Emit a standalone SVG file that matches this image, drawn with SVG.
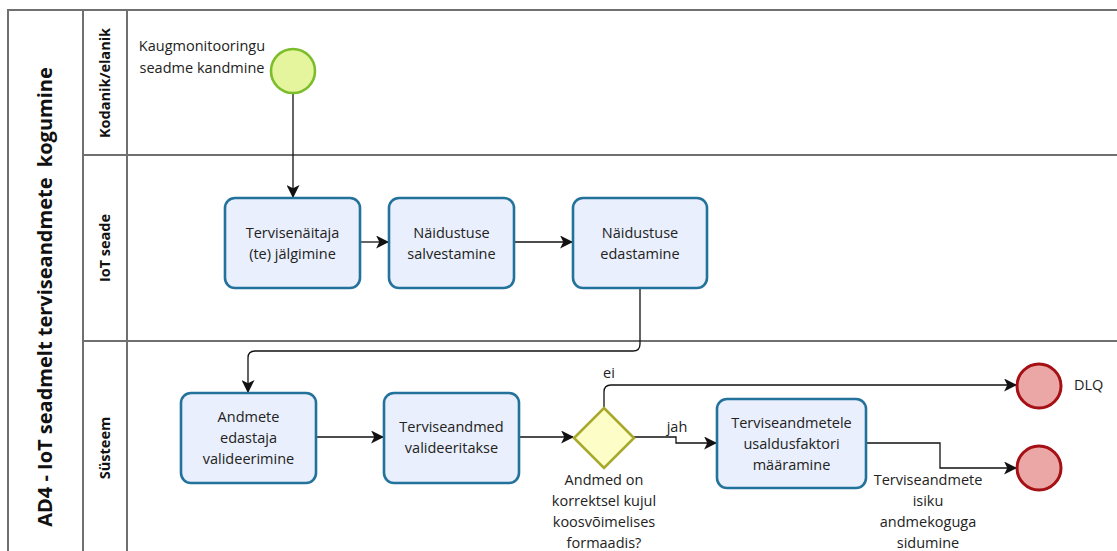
<svg xmlns="http://www.w3.org/2000/svg" width="1117" height="551" viewBox="0 0 1117 551">
  <defs>
    <marker id="arrow" viewBox="0 0 12 12" refX="11" refY="6" markerWidth="13" markerHeight="13" markerUnits="userSpaceOnUse" orient="auto">
      <path d="M0,0 L12,6 L0,12 L3,6 Z" fill="#111"/>
    </marker>
    <style>
      .lane { fill: none; stroke: #707070; stroke-width: 2; }
      .task rect { fill: #e9effc; stroke: #23729c; stroke-width: 2.6; }
      .label { font-family: "Open Sans", "Noto Sans", sans-serif; font-size: 14.5px; fill: #222; text-anchor: middle; }
      .lbl-left { text-anchor: start; }
      .pool-title { font-family: "Open Sans", "Noto Sans", sans-serif; font-size: 20px; font-weight: bold; fill: #111; text-anchor: middle; white-space: pre; }
      .lane-title { font-family: "Open Sans", "Noto Sans", sans-serif; font-size: 14.5px; font-weight: bold; fill: #111; text-anchor: middle; }
      .flow { fill: none; stroke: #111; stroke-width: 1.3; marker-end: url(#arrow); }
      .start circle { fill: #e5f59d; stroke: #7cbd2c; stroke-width: 2.6; }
      .end circle { fill: #eba6a6; stroke: #a51014; stroke-width: 3; }
      .gateway polygon { fill: #fdfdc8; stroke: #a8a82c; stroke-width: 2.6; }
    </style>
  </defs>

  <rect width="1117" height="551" fill="#fff"/>

  <!-- pool and lanes -->
  <g id="pool">
    <path class="lane" d="M1117,10 H8 V551"/>
    <path class="lane" d="M83,10 V551"/>
    <path class="lane" d="M127,10 V551"/>
    <path class="lane" d="M83,155 H1117"/>
    <path class="lane" d="M83,341 H1117"/>
    <text class="pool-title" xml:space="preserve" transform="translate(52,297) rotate(-90)">AD4 - IoT seadmelt terviseandmete  kogumine</text>
    <text class="lane-title" transform="translate(110,83) rotate(-90)">Kodanik/elanik</text>
    <text class="lane-title" transform="translate(110,248) rotate(-90)">IoT seade</text>
    <text class="lane-title" transform="translate(110,448) rotate(-90)">Süsteem</text>
  </g>

  <!-- connectors -->
  <g id="connectors">
    <path class="flow" d="M293,93 V197"/>
    <path class="flow" d="M360,242 H388"/>
    <path class="flow" d="M514,242 H572"/>
    <path class="flow" d="M640,288 V344 Q640,351 633,351 H255 Q248,351 248,358 V392"/>
    <path class="flow" d="M316,437 H383"/>
    <path class="flow" d="M519,437 H573"/>
    <path class="flow" d="M604,409 V392 Q604,385 611,385 H1016"/>
    <path class="flow" d="M634,437 H676 V443 H716"/>
    <path class="flow" d="M866,443 H940 V468 H1016"/>
    <text class="label" x="609" y="378">ei</text>
    <text class="label" x="677" y="432">jah</text>
  </g>

  <!-- start event -->
  <g id="start" class="start">
    <circle cx="293" cy="71" r="22"/>
    <text class="label" x="202" y="51">Kaugmonitooringu</text>
    <text class="label" x="202" y="73">seadme kandmine</text>
  </g>

  <!-- tasks -->
  <g id="task-jalgimine" class="task">
    <rect x="225" y="198" width="135" height="90" rx="10"/>
    <text class="label" x="292.5" y="238">Tervisenäitaja</text>
    <text class="label" x="292.5" y="259">(te) jälgimine</text>
  </g>
  <g id="task-salvestamine" class="task">
    <rect x="389" y="198" width="125" height="90" rx="10"/>
    <text class="label" x="451.5" y="238">Näidustuse</text>
    <text class="label" x="451.5" y="259">salvestamine</text>
  </g>
  <g id="task-edastamine" class="task">
    <rect x="573" y="198" width="134" height="90" rx="10"/>
    <text class="label" x="640" y="238">Näidustuse</text>
    <text class="label" x="640" y="259">edastamine</text>
  </g>
  <g id="task-edastaja" class="task">
    <rect x="181" y="393" width="135" height="90" rx="10"/>
    <text class="label" x="248.5" y="422">Andmete</text>
    <text class="label" x="248.5" y="443">edastaja</text>
    <text class="label" x="248.5" y="464">valideerimine</text>
  </g>
  <g id="task-valideeritakse" class="task">
    <rect x="384" y="393" width="135" height="90" rx="10"/>
    <text class="label" x="451.5" y="432">Terviseandmed</text>
    <text class="label" x="451.5" y="453">valideeritakse</text>
  </g>
  <g id="task-usaldusfaktor" class="task">
    <rect x="717" y="399" width="149" height="89" rx="10"/>
    <text class="label" x="791.5" y="428">Terviseandmetele</text>
    <text class="label" x="791.5" y="449">usaldusfaktori</text>
    <text class="label" x="791.5" y="470">määramine</text>
  </g>

  <!-- gateway -->
  <g id="gateway" class="gateway">
    <polygon points="604,408 634,438 604,468 574,438"/>
    <text class="label" x="604" y="485">Andmed on</text>
    <text class="label" x="604" y="506">korrektsel kujul</text>
    <text class="label" x="604" y="527">koosvõimelises</text>
    <text class="label" x="604" y="548">formaadis?</text>
  </g>

  <!-- end events -->
  <g id="end-dlq" class="end">
    <circle cx="1039" cy="386" r="22"/>
    <text class="label lbl-left" x="1074" y="390">DLQ</text>
  </g>
  <g id="end-sidumine" class="end">
    <circle cx="1039" cy="468" r="22"/>
    <text class="label" x="928" y="485">Terviseandmete</text>
    <text class="label" x="928" y="506">isiku</text>
    <text class="label" x="928" y="527">andmekoguga</text>
    <text class="label" x="928" y="548">sidumine</text>
  </g>
</svg>
